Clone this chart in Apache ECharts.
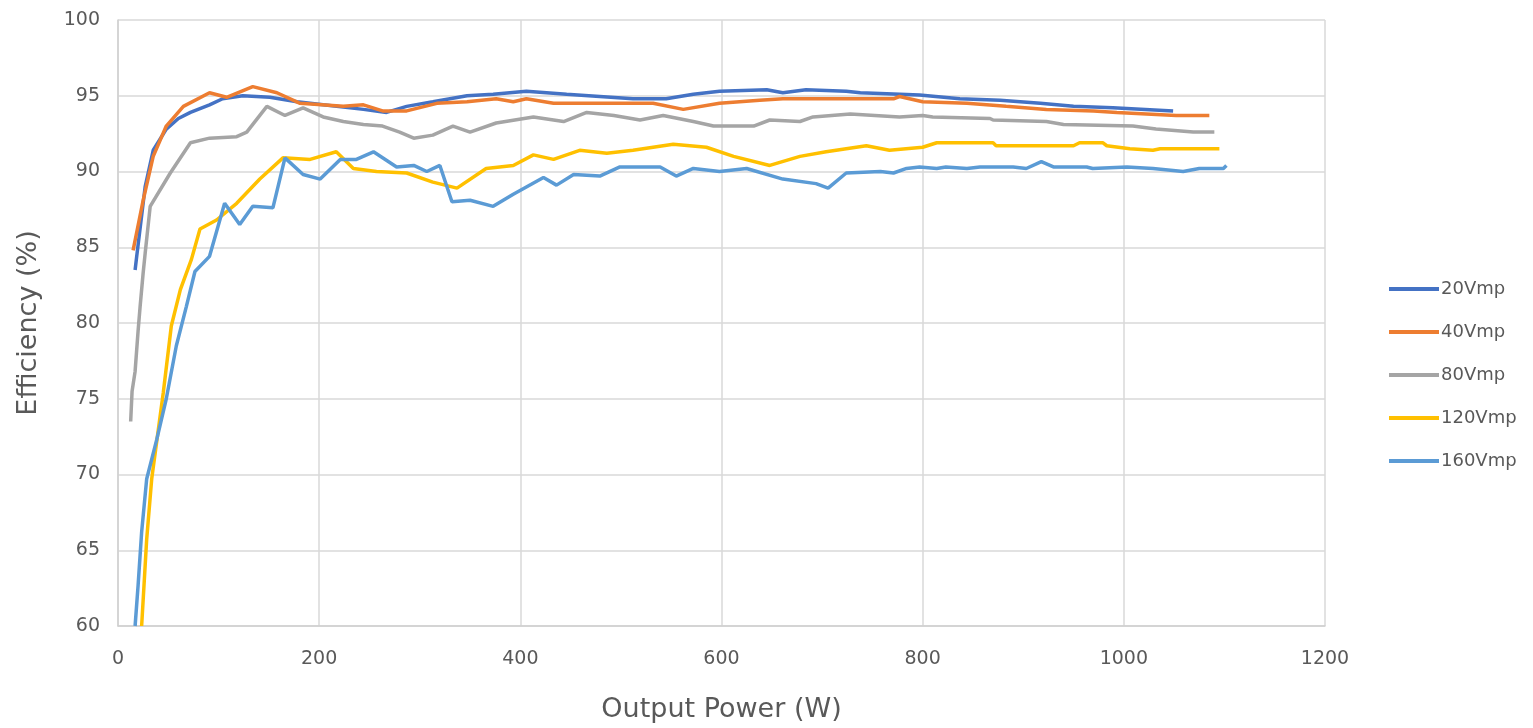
<!DOCTYPE html>
<html><head><meta charset="utf-8">
<script src="https://cdn.jsdelivr.net/npm/echarts@6/dist/echarts.min.js"></script>
<style>html,body{margin:0;padding:0;background:#fff}#c{width:1533px;height:728px}</style>
</head><body><div id="c"></div>
<script>
const seriesNames = ['20Vmp','40Vmp','80Vmp','120Vmp','160Vmp'];
const xTicks = [0,200,400,600,800,1000,1200];
const yTicks = [60,65,70,75,80,85,90,95,100];
const s20 = [[17,83.5],[18.6,84.4],[27,89],[35,91.4],[48,92.8],[60,93.5],[72,93.9],[91,94.4],[104,94.8],[124,95.0],[151,94.9],[178,94.6],[204,94.4],[244,94.1],[267,93.9],[287,94.3],[313,94.6],[347,95.0],[373,95.1],[406,95.3],[446,95.1],[479,94.95],[512,94.8],[545,94.8],[572,95.1],[598,95.3],[645,95.4],[661,95.2],[684,95.4],[724,95.3],[738,95.2],[797,95.05],[837,94.8],[877,94.7],[917,94.5],[950,94.3],[989,94.2],[1049,94.0]];
const s40 = [[15,84.8],[25,88.1],[35,91.0],[48,93.0],[65,94.3],[91,95.2],[108,94.9],[134,95.6],[158,95.2],[181,94.5],[224,94.3],[244,94.4],[263,94.0],[287,94.0],[317,94.5],[347,94.6],[376,94.8],[393,94.6],[406,94.8],[433,94.5],[479,94.5],[532,94.5],[562,94.1],[598,94.5],[638,94.7],[661,94.8],[724,94.8],[771,94.8],[777,94.95],[800,94.6],[844,94.5],[883,94.3],[923,94.1],[970,94.0],[993,93.9],[1052,93.7],[1085,93.7]];
const s80 = [[12.6,73.5],[14,75.5],[17,76.8],[20,79.5],[22,81.1],[25,83.3],[27,84.6],[32,87.7],[52,89.9],[72,91.9],[91,92.2],[118,92.3],[128,92.6],[148,94.3],[166,93.7],[184,94.2],[204,93.6],[224,93.3],[244,93.1],[263,93.0],[280,92.6],[294,92.2],[313,92.4],[333,93.0],[350,92.6],[376,93.2],[413,93.6],[443,93.3],[466,93.9],[493,93.7],[519,93.4],[542,93.7],[572,93.3],[592,93.0],[632,93.0],[648,93.4],[678,93.3],[691,93.6],[728,93.8],[777,93.6],[800,93.7],[810,93.6],[867,93.5],[870,93.4],[923,93.3],[940,93.1],[1009,93.0],[1032,92.8],[1069,92.6],[1090,92.6]];
const s120 = [[23.5,60],[28.5,65.7],[33.5,69.7],[45,75.4],[53,79.8],[62,82.2],[73,84.2],[81.5,86.2],[98,86.8],[118,87.9],[141,89.5],[164,90.9],[191,90.8],[217,91.3],[234,90.2],[257,90.0],[287,89.9],[313,89.3],[337,88.9],[366,90.2],[393,90.4],[413,91.1],[433,90.8],[459,91.4],[486,91.2],[512,91.4],[552,91.8],[585,91.6],[612,91.0],[648,90.4],[678,91.0],[704,91.3],[744,91.7],[767,91.4],[800,91.6],[814,91.9],[870,91.9],[873,91.7],[950,91.7],[956,91.9],[979,91.9],[983,91.7],[1006,91.5],[1029,91.4],[1036,91.5],[1095,91.5]];
const s160 = [[17,60],[20,62.7],[23.5,66.2],[28.5,69.7],[38.5,72.3],[48,75.0],[58,78.5],[68,81.1],[76.5,83.4],[91,84.4],[106,87.9],[121,86.5],[134,87.7],[154,87.6],[166,90.9],[184,89.8],[201,89.5],[221,90.8],[237,90.8],[254,91.3],[277,90.3],[294,90.4],[307,90.0],[320,90.4],[332,88.0],[350,88.1],[373,87.7],[393,88.5],[423,89.6],[436,89.1],[453,89.8],[479,89.7],[499,90.3],[539,90.3],[555,89.7],[572,90.2],[598,90.0],[625,90.2],[661,89.5],[694,89.2],[706,88.9],[724,89.9],[758,90.0],[771,89.9],[784,90.2],[797,90.3],[814,90.2],[823,90.3],[844,90.2],[857,90.3],[890,90.3],[903,90.2],[918,90.65],[930,90.3],[963,90.3],[969,90.2],[1003,90.3],[1029,90.2],[1059,90.0],[1075,90.2],[1099,90.2],[1102,90.4]];
const allData = [s20,s40,s80,s120,s160];
const colors = ['#4472C4','#ED7D31','#A5A5A5','#FFC000','#5B9BD5'];
const FONT = '"DejaVu Sans", sans-serif';
const chart = echarts.init(document.getElementById('c'));
chart.setOption({
  animation:false,
  color:colors,
  grid:{left:118,right:208,top:20,bottom:101,containLabel:false},
  legend:{orient:'vertical',left:1384,top:275,itemWidth:50,itemHeight:4,itemGap:25,icon:'rect',
    textStyle:{fontFamily:FONT,fontSize:18,color:'#595959',padding:[0,0,0,-3]},
    data:seriesNames},
  xAxis:{type:'value',min:xTicks[0],max:xTicks[xTicks.length-1],interval:200,
    name:'Output Power (W)',nameLocation:'middle',nameGap:70,
    nameTextStyle:{fontFamily:FONT,fontSize:27,color:'#595959'},
    axisLine:{show:true,lineStyle:{color:'#d0d0d0',width:1.5}},axisTick:{show:false},
    axisLabel:{fontFamily:FONT,fontSize:19,color:'#595959',margin:24,formatter:v=>String(v)},
    splitLine:{show:true,lineStyle:{color:'#d9d9d9',width:1.5}}},
  yAxis:{type:'value',min:yTicks[0],max:yTicks[yTicks.length-1],interval:5,
    name:'Efficiency (%)',nameLocation:'middle',nameGap:76,nameRotate:90,
    nameTextStyle:{fontFamily:FONT,fontSize:27,color:'#595959'},
    axisLine:{show:true,lineStyle:{color:'#d0d0d0',width:1.5}},axisTick:{show:false},
    axisLabel:{fontFamily:FONT,fontSize:19,color:'#595959',margin:18},
    splitLine:{show:true,lineStyle:{color:'#d9d9d9',width:1.5}}},
  series: seriesNames.map((n,i)=>({name:n,type:'line',data:allData[i],showSymbol:false,symbol:'none',
    lineStyle:{width:3.5,color:colors[i]},itemStyle:{color:colors[i]},clip:true}))
});
</script></body></html>
